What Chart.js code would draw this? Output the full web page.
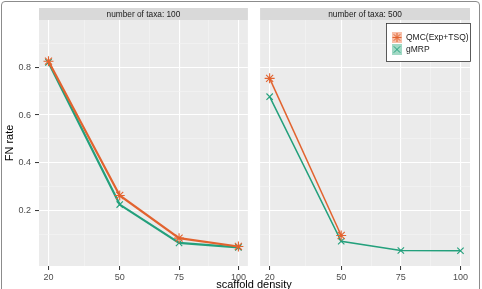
<!DOCTYPE html>
<html>
<head>
<meta charset="utf-8">
<script src="https://cdn.jsdelivr.net/npm/chart.js@4.4.1/dist/chart.umd.min.js"></script>
<style>
html,body{margin:0;padding:0;background:#fff;width:482px;height:289px;overflow:hidden;}
#frame{position:absolute;left:1px;top:1px;width:477px;height:300px;border:1px solid #8c8c8c;border-radius:4px;}
#c1{position:absolute;left:0;top:0;}
#c2{position:absolute;left:254px;top:0;}
#xtitle{position:absolute;left:154px;width:200px;top:278px;text-align:center;font:11px "Liberation Sans",Arial,sans-serif;color:#000;}
</style>
</head>
<body>
<div id="frame"></div>
<canvas id="c1" width="254" height="289"></canvas>
<canvas id="c2" width="228" height="289"></canvas>
<div id="xtitle">scaffold density</div>
<script>
// ---- data ----
const density = [20, 50, 75, 100];
const seriesNames = ["QMC(Exp+TSQ)", "gMRP"];
const qmc100 = [0.826, 0.262, 0.083, 0.048];
const gmrp100 = [0.821, 0.224, 0.063, 0.044];
const qmc500 = [0.754, 0.094, null, null];
const gmrp500 = [0.677, 0.070, 0.031, 0.030];
const panelTitles = ["number of taxa: 100", "number of taxa: 500"];
const xMajor = [20, 50, 75, 100];
const xMinor = [35, 62.5, 87.5];
const yMajor = [0.2, 0.4, 0.6, 0.8];
const yMinor = [0.1, 0.3, 0.5, 0.7, 0.9];

const ORANGE = "#E2632F";
const GREEN = "#23A07C";
const FONT = '"Liberation Sans", Arial, sans-serif';

function pts(vals){ return density.map((d,i)=>({x:d, y:vals[i]})).filter(p=>p.y!==null); }

const panelPlugin = {
  id: 'panel',
  beforeDraw(chart, args, opts){
    const {ctx, chartArea:a} = chart;
    ctx.save();
    ctx.fillStyle = '#EBEBEB';
    ctx.fillRect(a.left, a.top, a.right-a.left, a.bottom-a.top);
    ctx.fillStyle = '#D9D9D9';
    ctx.fillRect(a.left, 8, a.right-a.left, 12);
    ctx.fillStyle = '#1A1A1A';
    ctx.font = '8.3px ' + FONT;
    ctx.textAlign = 'center';
    ctx.textBaseline = 'middle';
    ctx.fillText(opts.title, (a.left+a.right)/2, 14.5);
    ctx.restore();
  }
};

const legendPlugin = {
  id: 'boxlegend',
  afterDraw(chart, args, opts){
    if(!opts.show) return;
    const {ctx} = chart;
    const ox = 386 - 254; // canvas offset
    ctx.save();
    ctx.fillStyle = '#fff';
    ctx.fillRect(ox+0.5, 23.5, 84, 38);
    ctx.strokeStyle = '#333';
    ctx.lineWidth = 0.8;
    ctx.strokeRect(ox+0.5, 23.5, 84, 38);
    const keyFill = ['rgba(240,140,100,0.55)', 'rgba(70,180,140,0.5)'];
    chart.data.datasets.forEach((ds, i) => {
      const cy = 37.5 + i*12;
      ctx.fillStyle = keyFill[i];
      ctx.fillRect(ox+6, cy-5.5, 10, 11);
      ctx.strokeStyle = ds.borderColor;
      ctx.fillStyle = ds.borderColor;
      ctx.lineWidth = 1;
      Chart.helpers.drawPoint(ctx, {pointStyle: ds.pointStyle, rotation: 0, radius: 4.5, borderWidth: 1}, ox+11, cy);
      ctx.fillStyle = '#1A1A1A';
      ctx.font = '8.5px ' + FONT;
      ctx.textAlign = 'left';
      ctx.textBaseline = 'middle';
      ctx.fillText(ds.label, ox+20, cy);
    });
    ctx.restore();
  }
};

function makeChart(id, qmc, gmrp, showY, title, padL, padR, legend, lw){
  const allX = xMajor.concat(xMinor).sort((a,b)=>a-b);
  const allY = yMajor.concat(yMinor).sort((a,b)=>a-b);
  return new Chart(document.getElementById(id), {
    type: 'line',
    data: {
      datasets: [
        {label: seriesNames[0], data: pts(qmc), borderColor: ORANGE, backgroundColor: ORANGE,
         pointStyle: 'star', pointRadius: 5, pointBorderWidth: 1.1, borderWidth: lw, tension: 0},
        {label: seriesNames[1], data: pts(gmrp), borderColor: GREEN, backgroundColor: GREEN,
         pointStyle: 'crossRot', pointRadius: 4.5, pointBorderWidth: 1.1, borderWidth: lw, tension: 0}
      ]
    },
    options: {
      responsive: false,
      animation: false,
      devicePixelRatio: 1,
      layout: {padding: {top: 20, left: padL, right: padR, bottom: 0}},
      plugins: {
        legend: {display: false},
        tooltip: {enabled: false},
        panel: {title: title},
        boxlegend: {show: legend}
      },
      scales: {
        x: {
          type: 'linear', min: 16, max: 104,
          afterBuildTicks(s){ s.ticks = allX.map(v=>({value:v})); },
          afterFit(s){ s.height = 23; },
          border: {display: false},
          grid: {
            color: (c)=> xMajor.includes(c.tick.value) ? '#FFFFFF' : '#F5F5F5',
            lineWidth: (c)=> xMajor.includes(c.tick.value) ? 1.1 : 0.6,
            tickColor: (c)=> xMajor.includes(c.tick.value) ? '#333333' : 'rgba(0,0,0,0)',
            tickWidth: 1,
            tickLength: 4
          },
          ticks: {
            autoSkip: false, maxRotation: 0, padding: 2,
            color: '#4D4D4D', font: {family: FONT, size: 9},
            callback: (v)=> xMajor.includes(v) ? String(v) : ''
          }
        },
        y: {
          type: 'linear', min: -0.034, max: 0.999,
          display: showY ? true : false,
          afterBuildTicks(s){ s.ticks = allY.map(v=>({value:v})); },
          afterFit(s){ s.width = 39; },
          border: {display: false},
          title: {display: true, text: 'FN rate', color: '#000', font: {family: FONT, size: 11}, padding: {top: 3.5, bottom: 0}},
          grid: {
            color: (c)=> yMajor.includes(c.tick.value) ? '#FFFFFF' : '#F5F5F5',
            lineWidth: (c)=> yMajor.includes(c.tick.value) ? 1.1 : 0.6,
            tickColor: (c)=> yMajor.includes(c.tick.value) ? '#333333' : 'rgba(0,0,0,0)',
            tickWidth: 1,
            tickLength: 4
          },
          ticks: {
            autoSkip: false, padding: 4,
            color: '#4D4D4D', font: {family: FONT, size: 9},
            callback: (v)=> yMajor.includes(v) ? v.toFixed(1) : ''
          }
        }
      }
    },
    plugins: [panelPlugin, legendPlugin]
  });
}

const ch1 = makeChart('c1', qmc100, gmrp100, true, panelTitles[0], 0, 3, false, 2.2);
const ch2 = makeChart('c2', qmc500, gmrp500, true, panelTitles[1], 3, 12, true, 1.5);
ch2.options.scales.y.title.display = false;
ch2.options.scales.y.ticks.display = false;
ch2.options.scales.y.grid.drawTicks = false;
ch2.options.scales.y.afterFit = (s)=>{ s.width = 0; };
ch2.update();
</script>
</body>
</html>
